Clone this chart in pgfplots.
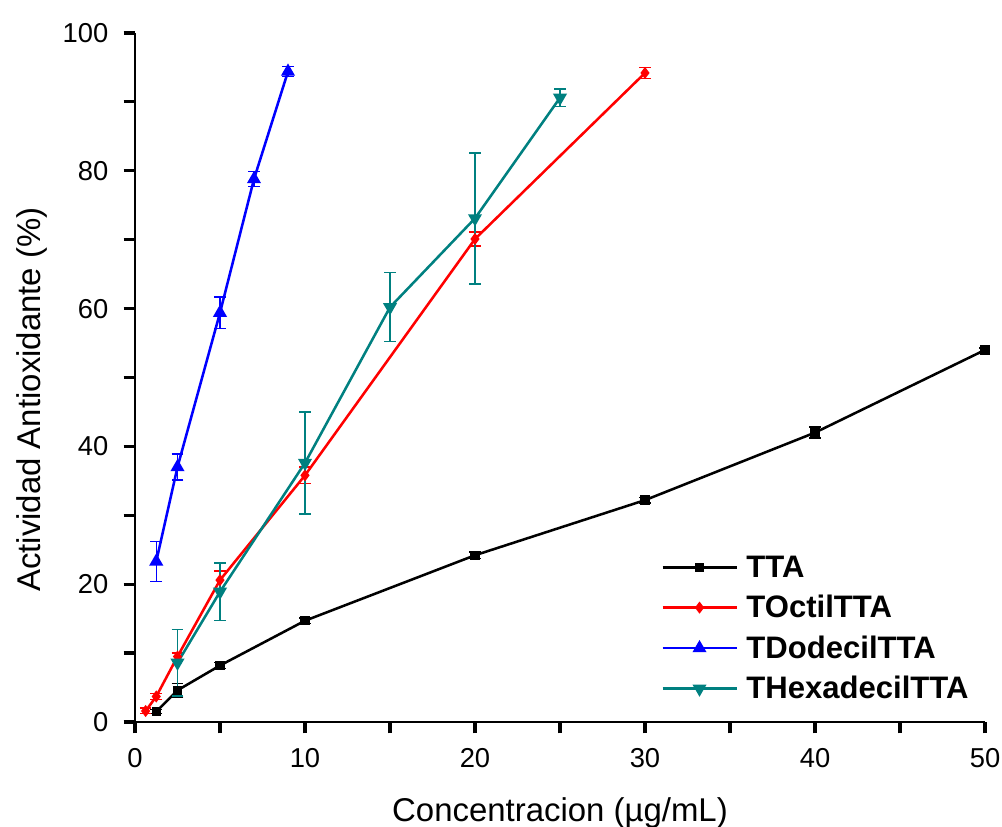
\documentclass[border=0pt]{standalone}
\usepackage{fontspec}
\setmainfont{Liberation Sans}
\usepackage{pgfplots}
\pgfplotsset{compat=1.18}
\usepackage{pgfplotstable}
\definecolor{tealc}{RGB}{0,128,128}

\pgfplotstableread{
x y e
1.25 1.5 0.3
2.5 4.6 1.0
5 8.2 0.4
10 14.7 0.4
20 24.2 0.5
30 32.2 0.4
40 42.0 0.8
50 54.0 0.3
}\tta
\pgfplotstableread{
x y e
0.625 1.6 0.4
1.25 3.7 0.4
2.5 9.5 0.5
5 20.6 1.3
10 35.8 1.2
20 70.1 1.0
30 94.2 0.8
}\toctil
\pgfplotstableread{
x y e
1.25 23.3 2.9
2.5 37.0 1.9
5 59.4 2.3
7 78.8 1.1
9 94.4 0.7
}\tdodecil
\pgfplotstableread{
x y e
2.5 8.6 4.8
5 18.9 4.2
10 37.6 7.4
15 60.2 5.0
20 73.1 9.5
25 90.6 1.3
}\thexadecil

\begin{document}
\begin{tikzpicture}
\begin{axis}[
  scale only axis,
  width=637.5pt, height=516.75pt,
  xmin=0, xmax=50, ymin=0, ymax=100,
  axis x line*=bottom, axis y line*=left,
  axis line style={line width=2pt,-},
  every outer x axis line/.append style={-},
  every outer y axis line/.append style={-},
  tick align=outside,
  xtick={0,10,...,50}, ytick={0,20,...,100},
  minor tick num=1,
  major tick length=8.5pt, minor tick length=8.5pt,
  tick style={line width=2.4pt, black, line cap=butt},
  /pgf/number format/assume math mode=true,
  ticklabel style={font=\fontsize{20.5}{24}\selectfont},
  xticklabel style={yshift=-8pt},
  yticklabel style={xshift=-8pt},
  xlabel={Concentracion (µg/mL)},
  ylabel={Actividad Antioxidante (\%)},
  label style={font=\fontsize{24.7}{29}\selectfont},
  xlabel style={at={(axis description cs:0.5,-0.1451)}, anchor=base},
  ylabel style={at={(axis description cs:-0.1106,0.468)}, anchor=base},
  legend style={draw=none, fill=none, at={(axis cs:30.94,24.52)}, anchor=north west,
    font=\fontsize{23.3}{27}\selectfont\bfseries, row sep=8pt, inner sep=0pt},
  legend cell align=left,
  legend image code/.code={\draw[mark repeat=2,mark phase=2] plot coordinates {(0pt,0pt) (27.75pt,0pt) (55.5pt,0pt)}; \path (60pt,0pt);},
  every axis plot/.append style={line width=1.9pt},
  error bars/y dir=both, error bars/y explicit,
  error bars/error mark options={rotate=90, mark size=4.4pt, line width=1.1pt},
  error bars/error bar style={line width=1.1pt},
]
\addplot[black, mark=square*, mark size=2.6pt] table[x=x, y=y, y error=e] {\tta};
\addlegendentry{TTA}
\addplot[red, mark=diamond*, mark size=3pt] table[x=x, y=y, y error=e] {\toctil};
\addlegendentry{TOctilTTA}
\addplot[blue, mark=triangle*, mark size=4.2pt] table[x=x, y=y, y error=e] {\tdodecil};
\addlegendentry{TDodecilTTA}
\addplot[tealc, mark=triangle*, mark options={rotate=180}, mark size=4.2pt] table[x=x, y=y, y error=e] {\thexadecil};
\addlegendentry{THexadecilTTA}
\end{axis}
\pgfresetboundingbox
\path[use as bounding box] (-101.25pt,-78.75pt) rectangle (650.25pt,541.5pt);
\end{tikzpicture}
\end{document}
